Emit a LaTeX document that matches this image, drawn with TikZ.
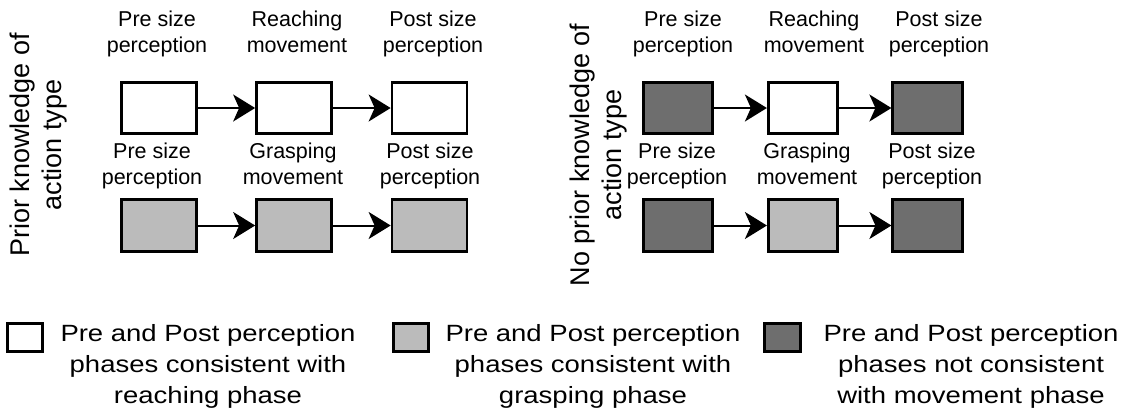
\documentclass[tikz,border=0pt]{standalone}
\usepackage{fontspec}
\setmainfont{Liberation Sans}
\usetikzlibrary{arrows.meta}
\definecolor{lg}{HTML}{BBBBBB}
\definecolor{dg}{HTML}{6E6E6E}
\newcommand{\legtxt}[1]{\scalebox{1.17}[1]{\fontsize{23.5}{31}\selectfont\begin{tabular}{@{}c@{}}#1\end{tabular}}}
\newcommand{\tl}[2]{#1\strut\\#2\strut}
\begin{document}
\begin{tikzpicture}[x=1pt,y=-1pt,
  boxL/.style={draw,line width=2.7pt,minimum width=75pt,minimum height=51.5pt,inner sep=0pt},
  boxR/.style={draw,line width=2.7pt,minimum width=69.5pt,minimum height=51.5pt,inner sep=0pt},
  legbox/.style={draw,line width=2.7pt,minimum width=35.5pt,minimum height=28.5pt,inner sep=0pt},
  lbl/.style={align=center,font=\fontsize{21.5}{26}\selectfont,inner sep=0pt},
  side/.style={align=center,font=\fontsize{27}{32}\selectfont,inner sep=0pt,rotate=90},
  arr/.style={line width=2pt,-{Stealth[length=22pt,width=27pt,inset=6pt]}}]
\useasboundingbox (0,0) rectangle (1127,416);
% left panel
\node[side] (sideL) at (39,145) {\tl{Prior knowledge of}{action type}};
\node[boxL,fill=white] (a1) at (159,108) {};
\node[boxL,fill=white] (a2) at (294,108) {};
\node[boxL,fill=white] (a3) at (429.5,108) {};
\node[boxL,fill=lg] (b1) at (159,225.5) {};
\node[boxL,fill=lg] (b2) at (294,225.5) {};
\node[boxL,fill=lg] (b3) at (429.5,225.5) {};
\draw[arr] (a1) -- (a2);
\draw[arr] (a2) -- (a3);
\draw[arr] (b1) -- (b2);
\draw[arr] (b2) -- (b3);
\node[lbl] (ta1) at (157,34) {\tl{Pre size}{perception}};
\node[lbl] (ta2) at (297,34) {\tl{Reaching}{movement}};
\node[lbl] (ta3) at (433,34) {\tl{Post size}{perception}};
\node[lbl] (tb1) at (152,166.5) {\tl{Pre size}{perception}};
\node[lbl] (tb2) at (293,166.5) {\tl{Grasping}{movement}};
\node[lbl] (tb3) at (430,166.5) {\tl{Post size}{perception}};
% right panel
\node[side] (sideR) at (599,155) {\tl{No prior knowledge of}{action type}};
\node[boxR,fill=dg] (c1) at (678,108) {};
\node[boxR,fill=white] (c2) at (803,108) {};
\node[boxR,fill=dg] (c3) at (927.5,108) {};
\node[boxR,fill=dg] (d1) at (678,225.5) {};
\node[boxR,fill=lg] (d2) at (803,225.5) {};
\node[boxR,fill=dg] (d3) at (927.5,225.5) {};
\draw[arr] (c1) -- (c2);
\draw[arr] (c2) -- (c3);
\draw[arr] (d1) -- (d2);
\draw[arr] (d2) -- (d3);
\node[lbl] (tc1) at (683,34) {\tl{Pre size}{perception}};
\node[lbl] (tc2) at (814,34) {\tl{Reaching}{movement}};
\node[lbl] (tc3) at (939,34) {\tl{Post size}{perception}};
\node[lbl] (td1) at (677,166.5) {\tl{Pre size}{perception}};
\node[lbl] (td2) at (807,166.5) {\tl{Grasping}{movement}};
\node[lbl] (td3) at (932,166.5) {\tl{Post size}{perception}};
% legend
\node[legbox,fill=white] (l1) at (25,337.5) {};
\node[legbox,fill=lg] (l2) at (411,337.5) {};
\node[legbox,fill=dg] (l3) at (782.5,337.5) {};
\node[inner sep=0pt] (lt1) at (208,366) {\legtxt{Pre and Post perception\\phases consistent with\\reaching phase}};
\node[inner sep=0pt] (lt2) at (593,366) {\legtxt{Pre and Post perception\\phases consistent with\\grasping phase}};
\node[inner sep=0pt] (lt3) at (971,366) {\legtxt{Pre and Post perception\\phases not consistent\\with movement phase}};
\end{tikzpicture}
\end{document}
